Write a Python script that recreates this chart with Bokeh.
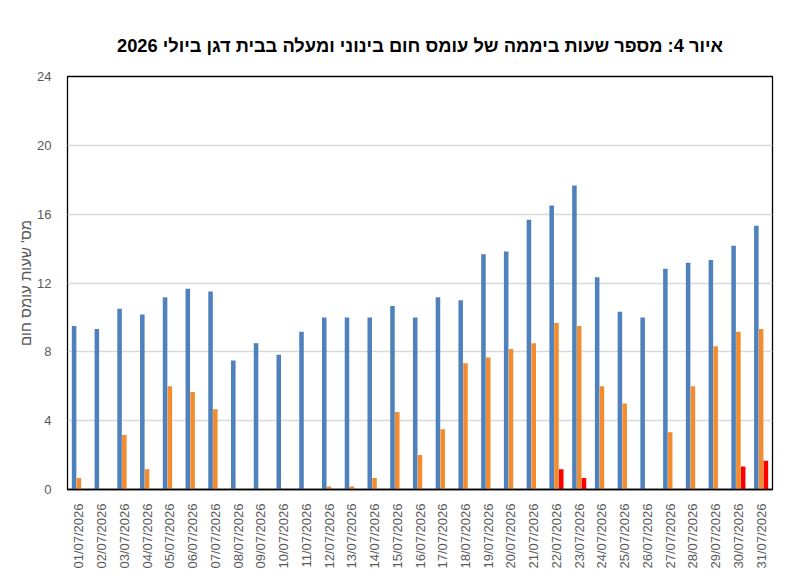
import math

from bokeh.plotting import figure
from bokeh.models import ColumnDataSource, FactorRange, FixedTicker
from bokeh.transform import dodge
from bokeh.embed import file_html
from bokeh.resources import INLINE

# daily hours of heat load, July 2026
dates = ["%02d/07/2026" % d for d in range(1, 32)]
hours_moderate = [9.5, 9.33, 10.5, 10.17, 11.17, 11.67, 11.5, 7.5, 8.5, 7.83,
                  9.17, 10.0, 10.0, 10.0, 10.67, 10.0, 11.17, 11.0, 13.67, 13.83,
                  15.67, 16.5, 17.67, 12.33, 10.33, 10.0, 12.83, 13.17, 13.33, 14.17,
                  15.33]
hours_heavy = [0.67, 0, 3.17, 1.17, 6.0, 5.67, 4.67, 0, 0, 0,
               0, 0.17, 0.17, 0.67, 4.5, 2.0, 3.5, 7.33, 7.67, 8.17,
               8.5, 9.67, 9.5, 6.0, 5.0, 0, 3.33, 6.0, 8.33, 9.17,
               9.33]
hours_extreme = [0, 0, 0, 0, 0, 0, 0, 0, 0, 0,
                 0, 0, 0, 0, 0, 0, 0, 0, 0, 0,
                 0, 1.17, 0.67, 0, 0, 0, 0, 0, 0, 1.33,
                 1.67]
y_ticks = [0, 4, 8, 12, 16, 20, 24]

source = ColumnDataSource(data=dict(
    date=dates,
    moderate=hours_moderate,
    heavy=hours_heavy,
    extreme=hours_extreme,
))

p = figure(
    width=798, height=573,
    x_range=FactorRange(*dates),
    y_range=(0, 24),
    title="איור 4: מספר שעות ביממה של עומס חום בינוני ומעלה בבית דגן ביולי 2026",
    output_backend="svg",
    toolbar_location=None,
    min_border_left=67, min_border_right=26,
    min_border_top=76, min_border_bottom=84,
)

p.vbar(x=dodge("date", -0.21, range=p.x_range), top="moderate", width=0.2,
       source=source, fill_color="#4F81BD", line_color=None)
p.vbar(x=dodge("date", 0.0, range=p.x_range), top="heavy", width=0.2,
       source=source, fill_color="#F38B2F", line_color=None)
p.vbar(x=dodge("date", 0.21, range=p.x_range), top="extreme", width=0.2,
       source=source, fill_color="#FF0000", line_color=None)

p.title.text_font = "Liberation Sans"
p.title.text_font_size = "18.3px"
p.title.text_font_style = "bold"
p.title.text_color = "black"
p.title.align = "center"
p.title.standoff = 42

p.outline_line_color = "black"
p.outline_line_width = 1.3

p.xgrid.visible = False
p.ygrid.grid_line_color = "#D9D9D9"
p.ygrid.grid_line_width = 1.5

p.yaxis.ticker = FixedTicker(ticks=y_ticks)
p.yaxis.axis_label = "מס' שעות עומס חום"
p.yaxis.axis_label_text_font = "Liberation Sans"
p.yaxis.axis_label_text_font_size = "15px"
p.yaxis.axis_label_text_font_style = "normal"
p.yaxis.axis_label_text_color = "#595959"
p.yaxis.axis_label_standoff = 0
p.yaxis.axis_line_color = None
p.yaxis.major_tick_line_color = None
p.yaxis.minor_tick_line_color = None
p.yaxis.major_label_standoff = 10

p.xaxis.axis_line_color = "black"
p.xaxis.axis_line_width = 1.5
p.xaxis.major_tick_line_color = None
p.xaxis.major_label_orientation = math.pi / 2
p.xaxis.major_label_standoff = 8

for ax in (p.xaxis, p.yaxis):
    ax.major_label_text_font = "Liberation Sans"
    ax.major_label_text_font_size = "13px"
    ax.major_label_text_color = "#595959"

open("out.html", "w").write(file_html(p, INLINE))
